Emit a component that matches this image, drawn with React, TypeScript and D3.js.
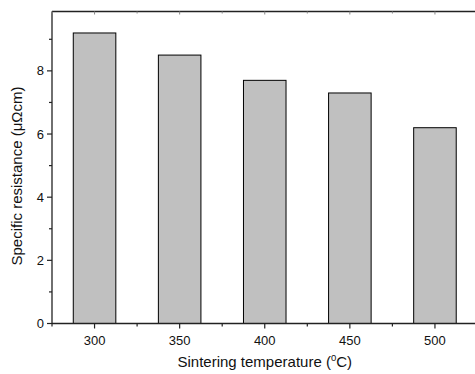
import React from "react";
import * as d3 from "d3";

const temperatures = [300, 350, 400, 450, 500];
const resistance = [9.2, 8.5, 7.7, 7.3, 6.2];
const yMajorTicks = [0, 2, 4, 6, 8];
const yMinorTicks = [1, 3, 5, 7, 9];
const xMinorTicks = [275, 325, 375, 425, 475];

const W = 475;
const H = 374;
const margin = { top: 11.5, right: -2.5, bottom: 50.5, left: 52 };

const App = () => {
  const x = d3
    .scaleLinear()
    .domain([275, 525])
    .range([margin.left, W - margin.right]);
  const y = d3
    .scaleLinear()
    .domain([0, 9.88])
    .range([H - margin.bottom, margin.top]);

  const barW = x(325) - x(300);
  const x0 = x.range()[0];
  const y0 = y(0);
  const yTop = y.range()[1];
  const font = "'Liberation Sans', Arial, sans-serif";

  return (
    <svg
      width={W}
      height={H}
      style={{ position: "absolute", left: 0, top: 0, background: "#fff" }}
      fontFamily={font}
    >
      {/* bars */}
      {temperatures.map((t, i) => (
        <rect
          key={t}
          x={x(t) - barW / 2}
          y={y(resistance[i])}
          width={barW}
          height={y0 - y(resistance[i])}
          fill="#c0c0c0"
          stroke="#000"
          strokeWidth={1}
        />
      ))}

      {/* frame (right side falls outside the picture) */}
      <line x1={x0} x2={W} y1={yTop} y2={yTop} stroke="#222" strokeWidth={1.3} />
      <line x1={x0} x2={W} y1={y0} y2={y0} stroke="#222" strokeWidth={1.3} />
      <line x1={x0} x2={x0} y1={yTop} y2={y0} stroke="#222" strokeWidth={1.3} />

      {/* y ticks */}
      {yMajorTicks.map((v) => (
        <g key={"ym" + v}>
          <line x1={x0 - 5} x2={x0} y1={y(v)} y2={y(v)} stroke="#222" strokeWidth={1.2} />
          <text x={x0 - 8} y={y(v)} dy="0.35em" textAnchor="end" fontSize={13} fill="#111">
            {v}
          </text>
        </g>
      ))}
      {yMinorTicks.map((v) => (
        <line key={"yn" + v} x1={x0 - 3} x2={x0} y1={y(v)} y2={y(v)} stroke="#222" strokeWidth={1.2} />
      ))}

      {/* x ticks */}
      {temperatures.map((t) => (
        <g key={"xm" + t}>
          <line x1={x(t)} x2={x(t)} y1={y0} y2={y0 + 5} stroke="#222" strokeWidth={1.2} />
          <line x1={x(t)} x2={x(t)} y1={yTop} y2={yTop + 3} stroke="#888" strokeWidth={1} />
          <text x={x(t)} y={y0 + 21.5} textAnchor="middle" fontSize={13} fill="#111">
            {t}
          </text>
        </g>
      ))}
      {xMinorTicks.map((t) => (
        <g key={"xn" + t}>
          <line x1={x(t)} x2={x(t)} y1={y0} y2={y0 + 3} stroke="#222" strokeWidth={1.2} />
          <line x1={x(t)} x2={x(t)} y1={yTop} y2={yTop + 2} stroke="#888" strokeWidth={1} />
        </g>
      ))}

      {/* axis titles */}
      <text
        x={(x0 + x(525)) / 2}
        y={367}
        textAnchor="middle"
        fontSize={15}
        fill="#111"
      >
        Sintering temperature (
        <tspan dy={-6} fontSize={9.5}>
          0
        </tspan>
        <tspan dy={6}>C)</tspan>
      </text>
      <text
        transform={`translate(22, 176) rotate(-90)`}
        textAnchor="middle"
        fontSize={15}
        fill="#111"
      >
        Specific resistance (μΩcm)
      </text>
    </svg>
  );
};

export default App;
